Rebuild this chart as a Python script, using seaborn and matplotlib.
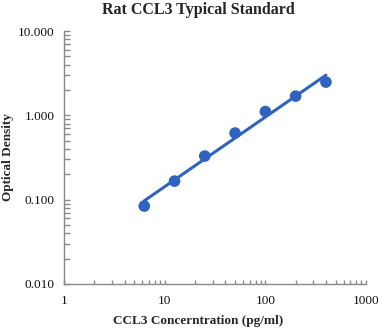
import numpy as np
import pandas as pd
import matplotlib
matplotlib.use("Agg")
import matplotlib.pyplot as plt
import seaborn as sns
from matplotlib.ticker import FixedLocator, LogLocator, NullFormatter, FixedFormatter

conc = [6.25, 12.5, 25, 50, 100, 200, 400]
od = [0.084, 0.166, 0.329, 0.617, 1.11, 1.69, 2.48]
x_ticks = [1, 10, 100, 1000]
x_labels = ["1", "10", "100", "1000"]
y_ticks = [0.01, 0.1, 1, 10]
y_labels = ["0.010", "0.100", "1.000", "10.000"]

sns.set_style("white")
plt.rcParams['font.family'] = ['Liberation Serif', 'DejaVu Serif']

df = pd.DataFrame({"conc": conc, "od": od})
# log-log linear fit
coef = np.polyfit(np.log10(df["conc"]), np.log10(df["od"]), 1)
fit = pd.DataFrame({"conc": [conc[0], conc[-1]]})
fit["od"] = 10 ** np.polyval(coef, np.log10(fit["conc"]))

color = "#2e63c4"
fig = plt.figure(figsize=(3.82, 3.32), dpi=100)
ax = fig.add_axes([0.168, 0.1446, 0.790, 0.762])
sns.scatterplot(data=df, x="conc", y="od", ax=ax, color=color, s=70,
                edgecolor="none", zorder=3)
sns.lineplot(data=fit, x="conc", y="od", ax=ax, color=color, lw=2.2, zorder=2)

ax.set_xscale("log")
ax.set_yscale("log")
ax.set_xlim(1, 1000)
ax.set_ylim(0.01, 10)
ax.xaxis.set_major_locator(FixedLocator(x_ticks))
ax.xaxis.set_major_formatter(FixedFormatter(x_labels))
ax.yaxis.set_major_locator(FixedLocator(y_ticks))
ax.yaxis.set_major_formatter(FixedFormatter(y_labels))
ax.xaxis.set_minor_locator(LogLocator(base=10, subs=np.arange(2, 10)))
ax.yaxis.set_minor_locator(LogLocator(base=10, subs=np.arange(2, 10)))
ax.xaxis.set_minor_formatter(NullFormatter())
ax.yaxis.set_minor_formatter(NullFormatter())

for s in ["top", "right"]:
    ax.spines[s].set_visible(False)
for s in ["left", "bottom"]:
    ax.spines[s].set_color("#888888")
    ax.spines[s].set_linewidth(1.0)
ax.tick_params(which="both", bottom=True, left=True, direction="in",
               color="#888888", width=1.0, labelsize=9.5, labelcolor="#111111")
ax.tick_params(axis="y", which="both", length=4)
ax.tick_params(axis="x", which="both", length=3)
ax.tick_params(axis="x", which="major", pad=8)
ax.tick_params(axis="y", which="major", pad=7)

ax.set_xlabel("CCL3 Concerntration (pg/ml)", fontsize=9.5, fontweight="bold")
ax.set_ylabel("Optical Density", fontsize=9.5, fontweight="bold")
ax.xaxis.set_label_coords(0.445, -0.122)
ax.yaxis.set_label_coords(-0.165, 0.5)
fig.suptitle("Rat CCL3 Typical Standard", fontsize=11.5, fontweight="bold",
             x=0.52, y=0.993)

fig.savefig("out.png", dpi=100)
